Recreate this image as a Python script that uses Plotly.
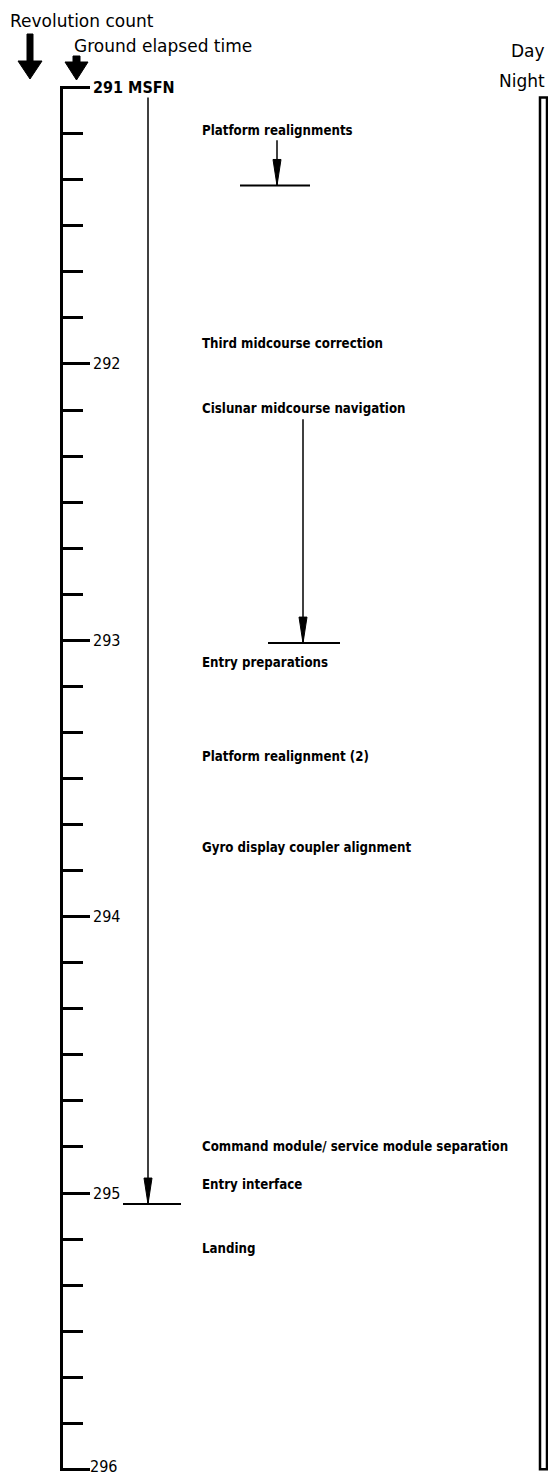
import plotly.graph_objects as go

# ground elapsed time, hours
hours = [291, 292, 293, 294, 295, 296]
hour_labels = ['291 MSFN', '292', '293', '294', '295', '296']

events = ['Platform realignments', 'Third midcourse correction', 'Cislunar midcourse navigation',
          'Entry preparations', 'Platform realignment (2)', 'Gyro display coupler alignment',
          'Command module/ service module separation', 'Entry interface', 'Landing']
event_times = [291.155, 291.925, 292.16, 293.08, 293.42, 293.75, 294.83, 294.97, 295.2]

# activity spans (start, end) in hours
span_start = [291.036, 291.19, 292.2]
span_end = [295.04, 291.354, 293.01]

daynight_start = 291.036
daynight_end = 296.0

# layout positions (x in px across the page)
span_x = [148, 277, 303]
bar_left = [25, 37, 35]
bar_right = [33, 33, 37]

W, H = 548, 1478
font = 'DejaVu Sans Condensed'

fig = go.Figure()

for sx, s, e, bl, br in zip(span_x, span_start, span_end, bar_left, bar_right):
    fig.add_trace(go.Scatter(x=[sx, sx], y=[s, e], mode='lines',
                             line=dict(color='black', width=1.5), hoverinfo='skip', showlegend=False))
    # arrow head
    fig.add_shape(type='path', xref='x', yref='y', xsizemode='pixel', ysizemode='pixel',
                  xanchor=sx, yanchor=e, path='M -4,26 L 4,26 L 0,0 Z',
                  fillcolor='black', line=dict(color='black', width=1))
    # stop bar
    fig.add_shape(type='line', xref='x', yref='y', x0=sx - bl, x1=sx + br, y0=e, y1=e,
                  line=dict(color='black', width=2))

# day / night strip
fig.add_shape(type='rect', xref='x', yref='y', x0=540, x1=547, y0=daynight_start, y1=daynight_end,
              line=dict(color='black', width=2.5))

# event labels
for name, t in zip(events, event_times):
    fig.add_annotation(x=200, y=t, xref='x', yref='y', text=name, showarrow=False,
                       xanchor='left', yanchor='middle',
                       font=dict(family=font, size=13.2, color='black', weight='bold'))

# hour labels
for h, lab in zip(hours, hour_labels):
    last = h == hours[-1]
    fig.add_annotation(x=88 if last else 91, y=h, xref='x', yref='y', text=lab, showarrow=False,
                       xanchor='left', yanchor='middle', yshift=3 if last else 0,
                       font=dict(family=font, size=16, color='black',
                                 weight='bold' if 'MSFN' in lab else 'normal'))

# headers
hdr = [('Revolution count', 8, 65, 'left'), ('Ground elapsed time', 72, 40, 'left'),
       ('Day', 547, 35, 'right'), ('Night', 547, 5, 'right')]
for txt, x, dy, anc in hdr:
    fig.add_annotation(x=x, y=1, xref='x', yref='paper', yshift=dy, text=txt, showarrow=False,
                       xanchor=anc, yanchor='middle',
                       font=dict(family='DejaVu Sans', size=17, color='black'))

# header arrows
fig.add_shape(type='path', xref='paper', yref='paper', xsizemode='pixel', ysizemode='pixel',
              xanchor=0, yanchor=1,
              path='M 27,52 L 33,52 L 33,25 L 42,25 L 30,7 L 18,25 L 27,25 Z',
              fillcolor='black', line=dict(color='black', width=1))
fig.add_shape(type='path', xref='paper', yref='paper', xsizemode='pixel', ysizemode='pixel',
              xanchor=0, yanchor=1,
              path='M 73,30 L 80,30 L 80,24 L 88,24 L 76.5,6 L 65,24 L 73,24 Z',
              fillcolor='black', line=dict(color='black', width=1))

# pad range a little so plotly keeps the end ticks (it drops inside ticks within 1px of the ends)
pad = 0.006
fig.update_layout(
    width=W, height=H,
    margin=dict(l=0, r=0, t=86, b=7),
    paper_bgcolor='white', plot_bgcolor='white',
    showlegend=False,
    xaxis=dict(range=[0, W], visible=False, fixedrange=True),
    yaxis=dict(range=[hours[-1] + pad, hours[0] - pad], anchor='free', position=61 / W,
               showline=True, linecolor='black', linewidth=3,
               ticks='inside', ticklen=27, tickwidth=2.5, tickcolor='black',
               tick0=291, dtick=1, showticklabels=False, showgrid=False, zeroline=False,
               minor=dict(ticks='inside', ticklen=20, tickwidth=2.5, tickcolor='black',
                          dtick=1 / 6, showgrid=False)),
)

fig.write_html('out.html', config={'displayModeBar': False},
               post_script="document.body.style.margin='0';document.body.style.overflow='hidden';")
